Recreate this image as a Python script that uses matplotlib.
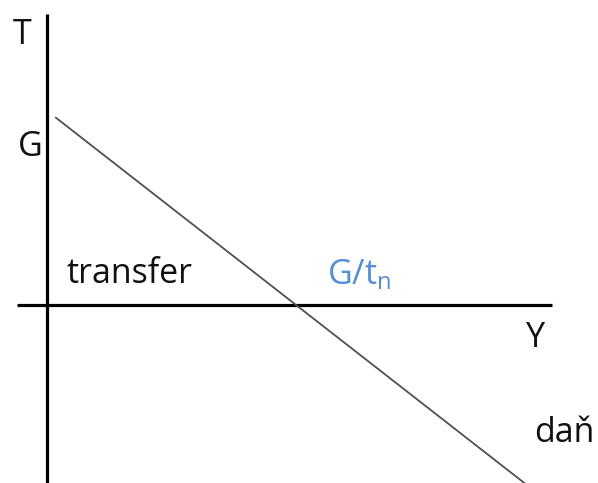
import matplotlib
matplotlib.use("Agg")
import matplotlib.pyplot as plt

# Diagram values (unit = distance from origin to G/t_n on the Y axis)
line_y = [0.036, 1.93]      # income Y at the two ends of the T line
line_t = [0.752, -0.725]    # net tax T at those ends
axis_y_span = [-0.12, 2.03]  # horizontal axis extent
axis_t_span = [-0.72, 1.17]  # vertical axis extent

labels = ["T", "G", "transfer", "G/t$_\\mathregular{n}$", "Y", "daň"]
label_pos = [(-0.10, 1.084), (-0.068, 0.635), (0.08, 0.088),
             (1.124, 0.084), (1.96, -0.133), (1.955, -0.55)]
label_color = ["#111111", "#111111", "#111111", "#558ED5", "#111111", "#111111"]

plt.rcParams["font.family"] = ["Open Sans", "DejaVu Sans"]
plt.rcParams["mathtext.fontset"] = "custom"
plt.rcParams["mathtext.rm"] = "Open Sans"

fig = plt.figure(figsize=(5.98, 4.83), dpi=100)
ax = fig.add_axes([0, 0, 1, 1])
ax.set_xlim(-47 / 249, 551 / 249)
ax.set_ylim(-178 / 249, 305 / 249)
ax.axis("off")

# axes of the diagram
ax.plot(axis_y_span, [0, 0], color="black", lw=2.3, solid_capstyle="butt")
ax.plot([0, 0], axis_t_span, color="black", lw=2.3, solid_capstyle="butt")

# T = G - t_n * Y
ax.plot(line_y, line_t, color="#505050", lw=1.3)

# text labels
for txt, (x, y), c in zip(labels, label_pos, label_color):
    if txt in ("T", "G", "Y"):
        ax.text(x, y, txt, color=c, fontsize=24.5, ha="center", va="center")
    else:
        ax.text(x, y, txt, color=c, fontsize=24.5, ha="left", va="baseline")

fig.savefig("out.png", dpi=100)
